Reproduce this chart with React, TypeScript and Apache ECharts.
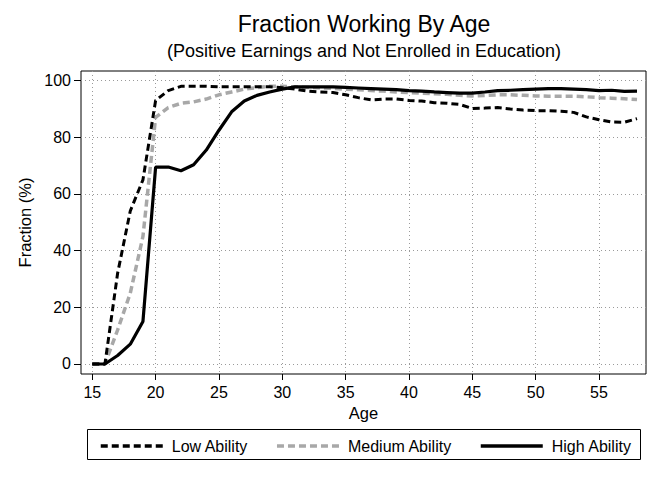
import React, { useEffect, useRef } from "react";
import * as echarts from "echarts";

const ages = [15,16,17,18,19,20,21,22,23,24,25,26,27,28,29,30,31,32,33,34,35,36,37,38,39,40,41,42,43,44,45,46,47,48,49,50,51,52,53,54,55,56,57,58];
const lowAbility = [0,0,32,54,65,93,96.5,98,98,98,97.8,97.8,97.8,97.8,97.8,97.5,97,96.3,96,95.8,95,94,93.2,93.5,93.5,93,92.8,92.2,92,91.6,90.2,90.3,90.5,90,89.6,89.4,89.4,89.2,88.8,87.2,86.2,85.4,85.3,86.6];
const mediumAbility = [0,0,12,25,45,87,90.5,92,92.5,93.5,95,96,97,97.5,98,98,97.8,97.6,97.5,97.3,97,96.8,96.5,96.3,96,95.8,95.6,95.4,95.2,94.8,94.6,94.8,95,95,94.8,94.6,94.5,94.5,94.5,94.3,94,93.8,93.6,93.3];
const highAbility = [0,0,3,7,15,69.5,69.5,68.2,70.3,75.5,82.5,89,92.8,94.8,96,97,97.8,97.8,97.8,97.8,97.6,97.4,97.2,97,96.8,96.5,96.3,96,95.8,95.6,95.6,96,96.5,96.6,96.8,97,97.2,97.2,97,96.8,96.5,96.6,96.2,96.3];
const xTicks = [15,20,25,30,35,40,45,50,55];
const yTicks = [0,20,40,60,80,100];
const seriesNames = ["Low Ability", "Medium Ability", "High Ability"];

const FONT = "'Liberation Sans', Arial, Helvetica, sans-serif";

export default function App() {
  const ref = useRef<HTMLDivElement>(null);
  useEffect(() => {
    if (!ref.current) return;
    const chart = echarts.init(ref.current, null, { renderer: "svg" });
    const pair = (vals: number[]) => ages.map((a, i) => [a, vals[i]]);
    const gridLine = { show: true, lineStyle: { color: "#9a9a9a", width: 1, type: [1, 3] as any } };
    chart.setOption({
      animation: false,
      backgroundColor: "#ffffff",
      textStyle: { fontFamily: FONT },
      graphic: [
        { type: "text", style: { text: "Fraction Working By Age", x: 364, y: 24, textAlign: "center", textVerticalAlign: "middle", font: `23px ${FONT}`, fill: "#000" } },
        { type: "text", style: { text: "(Positive Earnings and Not Enrolled in Education)", x: 364, y: 51, textAlign: "center", textVerticalAlign: "middle", font: `18px ${FONT}`, fill: "#000" } },
        { type: "rect", shape: { x: 87.5, y: 429.5, width: 553, height: 30 }, style: { fill: "none", stroke: "#000", lineWidth: 1 } },
      ],
      grid: { left: 81, top: 71, width: 565, height: 303, show: true, borderColor: "#000", borderWidth: 1, backgroundColor: "#fff", containLabel: false },
      legend: {
        data: seriesNames,
        left: 94,
        top: 433,
        itemWidth: 62,
        itemHeight: 16,
        itemGap: 27,
        itemStyle: { opacity: 0 },
        lineStyle: { width: 3.5 },
        textStyle: { fontSize: 16, color: "#000", fontFamily: FONT, padding: [0, 0, 0, 4] },
      },
      xAxis: {
        type: "value",
        min: 14.11,
        max: 58.71,
        name: "Age",
        nameLocation: "middle",
        nameGap: 27,
        nameTextStyle: { fontSize: 16.5, color: "#000", fontFamily: FONT },
        axisLine: { show: false, onZero: false },
        axisTick: { show: true, length: 6, lineStyle: { color: "#000" }, customValues: xTicks },
        axisLabel: { fontSize: 16, color: "#000", margin: 10, fontFamily: FONT, customValues: xTicks },
        splitLine: gridLine,
      },
      yAxis: {
        type: "value",
        min: -3.53,
        max: 103.4,
        name: "Fraction (%)",
        nameLocation: "middle",
        nameGap: 48,
        nameTextStyle: { fontSize: 16.5, color: "#000", fontFamily: FONT },
        axisLine: { show: false, onZero: false },
        axisTick: { show: true, length: 7, lineStyle: { color: "#000" }, customValues: yTicks },
        axisLabel: { fontSize: 16, color: "#000", margin: 10, fontFamily: FONT, customValues: yTicks },
        splitLine: gridLine,
      },
      series: [
        { name: seriesNames[0], type: "line", data: pair(lowAbility), showSymbol: false, symbol: "none", lineStyle: { color: "#000", width: 3, type: [7, 4] as any }, itemStyle: { color: "#000" }, z: 3 },
        { name: seriesNames[1], type: "line", data: pair(mediumAbility), showSymbol: false, symbol: "none", lineStyle: { color: "#a8a8a8", width: 3.5, type: [7, 4] as any }, itemStyle: { color: "#a8a8a8" }, z: 2 },
        { name: seriesNames[2], type: "line", data: pair(highAbility), showSymbol: false, symbol: "none", lineStyle: { color: "#000", width: 3.2, type: "solid" }, itemStyle: { color: "#000" }, z: 4 },
      ],
    });
    return () => chart.dispose();
  }, []);
  return <div ref={ref} style={{ position: "fixed", left: 0, top: 0, width: 664, height: 483 }} />;
}
